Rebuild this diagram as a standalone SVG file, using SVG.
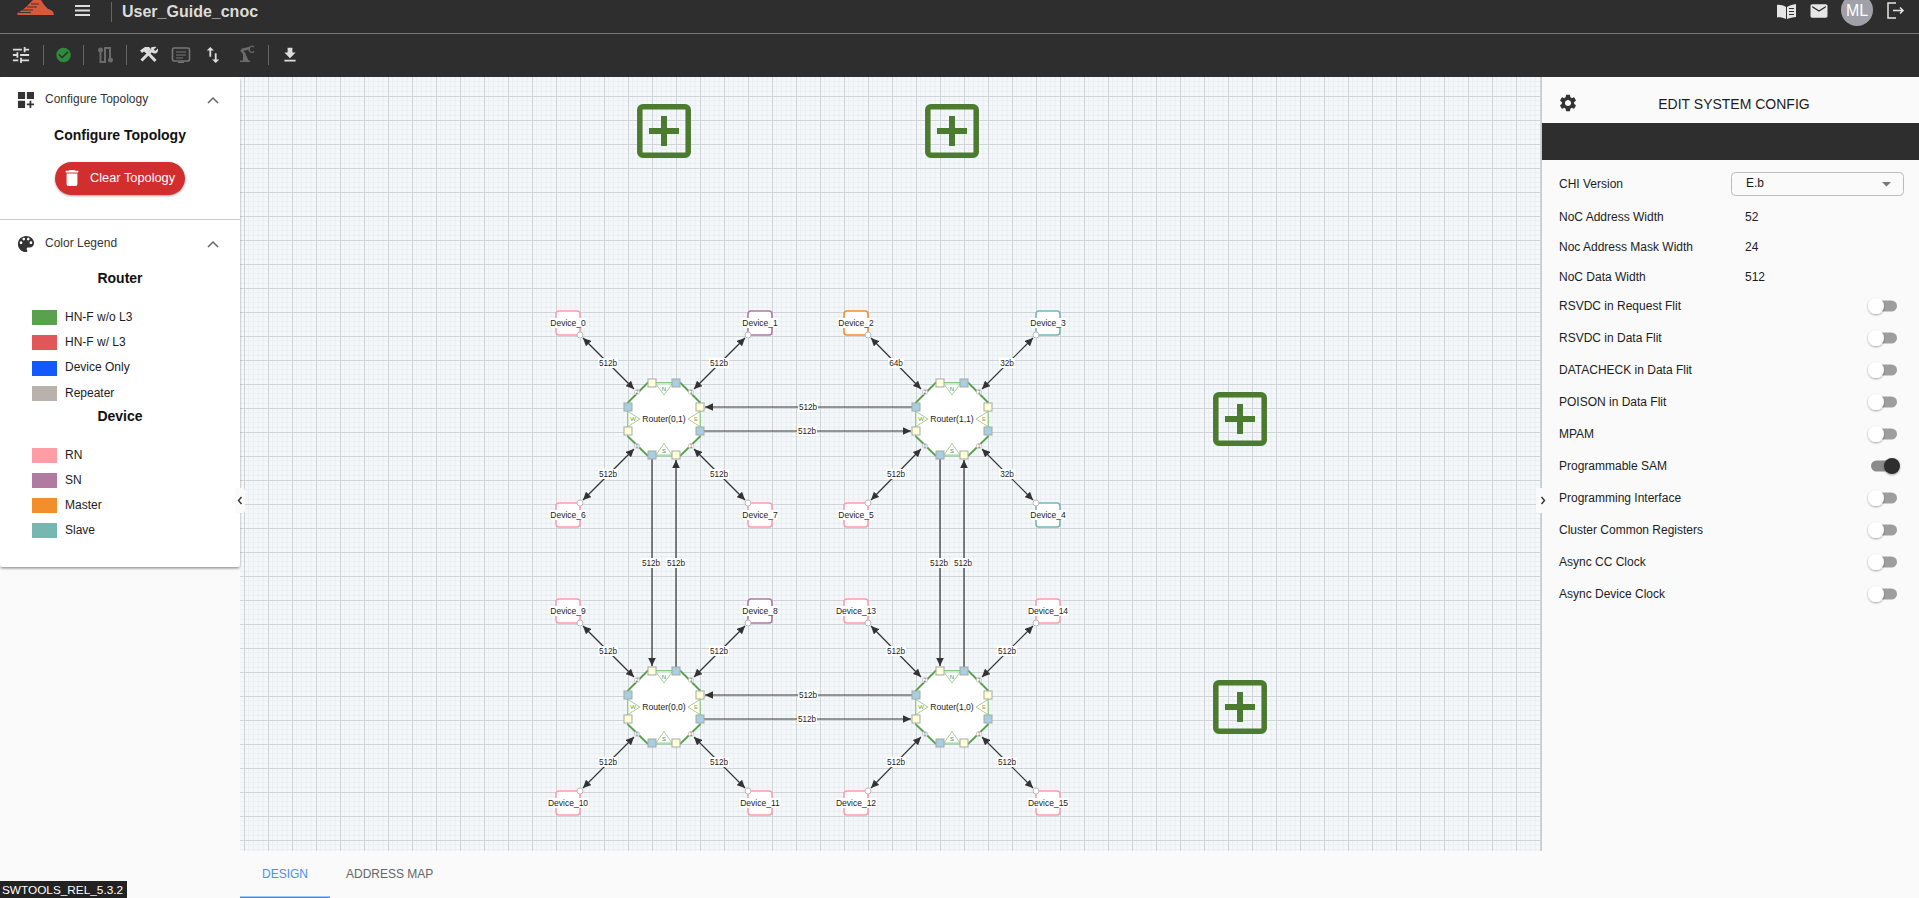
<svg xmlns="http://www.w3.org/2000/svg" xmlns:xlink="http://www.w3.org/1999/xlink" width="1919" height="898" viewBox="0 0 1919 898">
<style>
text{font-family:"Liberation Sans",Arial,sans-serif;fill:#1c1c1c}
.ui{font-size:12px;dominant-baseline:central}
.h{font-size:14px;font-weight:bold;text-anchor:middle;fill:#111;dominant-baseline:central}
.cv{fill:none;stroke:#666;stroke-width:1.5}
.dv{stroke:#666;stroke-width:1}
.link{stroke:#333;stroke-width:1.2;fill:none}
.both{marker-start:url(#a);marker-end:url(#a)}
.one{marker-end:url(#a)}
.lb rect{fill:#fff}
.lb text{font-size:8.200px;text-anchor:middle;fill:#1c1c1c}
.dev rect.b{fill:#fff;stroke-width:1.6}
.dev rect.t{fill:#fff}
.dev text{font-size:8.500px;text-anchor:middle}
.dev circle{fill:#fff;stroke:#aaa;stroke-width:.8}
.rn{stroke:#ff9da7}.sn{stroke:#b07aa1}.ma{stroke:#f28e2b}.sl{stroke:#76b7b2}
.tk{fill:#9e9e9e}
.kn{fill:#fff;filter:url(#s1)}
.add{fill:none;stroke:#4c7a2e;stroke-width:5.5}
.addp{fill:#4c7a2e}
.rl{font-size:8.600px;text-anchor:middle}
</style>
<defs>
<pattern id="grid" patternUnits="userSpaceOnUse" x="244" y="0" width="24" height="24">
<rect width="24" height="24" fill="#f4f8fb"/>
<path d="M4.8 0V24M9.6 0V24M14.4 0V24M19.2 0V24M0 4.8H24M0 9.6H24M0 14.4H24M0 19.2H24" stroke="#e8edf0" stroke-width=".9" fill="none"/>
<path d="M.5 0V24M0 .5H24" stroke="#d0d4d7" stroke-width="1" fill="none"/>
</pattern>
<marker id="a" markerUnits="userSpaceOnUse" markerWidth="9" markerHeight="8" refX="8" refY="3.8" orient="auto-start-reverse"><path d="M0 0L8 3.800L0 7.600z" fill="#333"/></marker>
<filter id="s1" x="-50%" y="-50%" width="200%" height="200%"><feDropShadow dx="0" dy="1" stdDeviation="1" flood-color="#000" flood-opacity=".35"/></filter>
<filter id="s2" x="-5%" y="-5%" width="110%" height="110%"><feDropShadow dx="0" dy="1.5" stdDeviation="1.2" flood-color="#000" flood-opacity=".4"/></filter>
<g id="router">
<polygon points="-16,-36.5 16,-36.5 36.5,-16 36.5,17 16,37 -16,37 -36.5,17 -36.5,-16" fill="#fff" stroke="#8cc684" stroke-width="1"/>
<path d="M-36.5 -16L-16 -36.5M16 -36.5L36.5 -16M36.5 17L16 37M-16 37L-36.5 17" stroke="#59a14f" stroke-width="1.800" fill="none"/>
<g fill="#fff" stroke="#a0d098" stroke-width="1">
<polygon points="-8,-35 8,-35 0,-24"/><polygon points="-8,36 8,36 0,24.5"/><polygon points="-36,-7.5 -24,0 -36,7.5"/><polygon points="36,-7.5 24,0 36,7.5"/>
</g>
<text x="0" y="-28" style="font-size:6px;text-anchor:middle;fill:#2f8f6f">N</text><text x="0" y="34" style="font-size:6px;text-anchor:middle;fill:#2f8f6f">S</text><text x="-31" y="2.200" style="font-size:6px;text-anchor:middle;fill:#5f9f2f">W</text><text x="32" y="2.200" style="font-size:6px;text-anchor:middle;fill:#c08f3f">E</text>
<g stroke="#a8a8a8" stroke-width="1">
<rect x="-16" y="-40" width="8" height="8" fill="#fefed8"/><rect x="8" y="-40" width="8" height="8" fill="#a8cfdf"/>
<rect x="-40" y="-16" width="8" height="8" fill="#a8cfdf"/><rect x="-40" y="8" width="8" height="8" fill="#fefed8"/>
<rect x="32" y="-16" width="8" height="8" fill="#fefed8"/><rect x="32" y="8" width="8" height="8" fill="#a8cfdf"/>
<rect x="-16" y="32" width="8" height="8" fill="#a8cfdf"/><rect x="8" y="32" width="8" height="8" fill="#fefed8"/>
</g>
<g fill="#fff" stroke="#bbb" stroke-width=".7">
<circle cx="-27" cy="-27" r="2.600"/><circle cx="27" cy="-27" r="2.600"/><circle cx="-27" cy="27" r="2.600"/><circle cx="27" cy="27" r="2.600"/>
</g>
<text x="-27" y="-25.300" style="font-size:4.500px;text-anchor:middle;fill:#555">2</text><text x="27" y="-25.300" style="font-size:4.500px;text-anchor:middle;fill:#555">3</text><text x="-27" y="28.700" style="font-size:4.500px;text-anchor:middle;fill:#555">0</text><text x="27" y="28.700" style="font-size:4.500px;text-anchor:middle;fill:#555">1</text>
</g>
<g id="addbtn"><rect x="-24.200" y="-24.200" width="48.400" height="48.400" rx="3" class="add"/><rect x="-15" y="-3" width="30" height="6" class="addp"/><rect x="-3" y="-15" width="6" height="30" class="addp"/></g>
</defs>

<rect width="1919" height="898" fill="#fafafa"/>
<rect id="canvas" x="240" y="77" width="1302" height="774" fill="url(#grid)"/>

<g id="topbar">
<rect width="1919" height="77" fill="#2e2e2e"/>
<rect y="33" width="1919" height="1" fill="#777"/>
<path d="M17 14C19 11.500 25 9 29 4L33 0H41C43 4 46 7 48 9C51 9.500 54 11.500 54 15H19Q17 15 17 14Z" fill="#d9583a"/>
<path d="M19 12.500H31M22 10H33M27 7H37M31 4H39" stroke="#2e2e2e" stroke-width=".9" fill="none"/>
<path d="M75 6H90M75 10.500H90M75 15H90" stroke="#ddd" stroke-width="1.800" fill="none"/>
<rect x="111" y="2" width="1" height="20" fill="#666"/>
<text x="122" y="17" style="font-size:16px;font-weight:bold;fill:#dcdcdc">User_Guide_cnoc</text>
<path d="M1786 7C1783 5 1779 4.500 1777 5V17.500C1779 17 1783 17.500 1786 19Z" fill="#e6e6e6"/>
<path d="M1787 7C1790 5 1793 4.500 1796 4V17C1793 17.500 1790 17.500 1787 19Z" fill="#e6e6e6"/>
<path d="M1789 8.500H1794M1789 11.500H1794M1789 14.500H1794" stroke="#2e2e2e" stroke-width="1"/>
<path transform="translate(1808.800,.8) scale(.85)" d="M20 4H4c-1.100 0-2 .9-2 2v12c0 1.100.9 2 2 2h16c1.100 0 2-.9 2-2V6c0-1.100-.9-2-2-2zm0 4l-8 5-8-5V6l8 5 8-5v2z" fill="#e6e6e6"/>
<circle cx="1857" cy="10" r="16" fill="#a0a1a8"/>
<text x="1857" y="16" style="font-size:16px;fill:#fff;text-anchor:middle">ML</text>
<path d="M1896 3H1888V18H1896M1893 10.500H1903M1900 7.500L1903 10.500L1900 13.500" fill="none" stroke="#e6e6e6" stroke-width="1.500"/>
</g>

<g id="toolbar">
<path transform="translate(10.200,44.200) scale(.9)" d="M3 17v2h6v-2H3zM3 5v2h10V5H3zm10 16v-2h8v-2h-8v-2h-2v6h2zM7 9v2H3v2h4v2h2V9H7zm14 4v-2H11v2h10zm-6-4h2V7h4V5h-4V3h-2v6z" fill="#ddd"/>
<path class="dv" d="M43.500 45V65M83.500 45V65M126.500 45V65M268.500 45V65"/>
<path transform="translate(54.900,46.400) scale(.72)" d="M12 2C6.480 2 2 6.480 2 12s4.480 10 10 10 10-4.480 10-10S17.520 2 12 2zm-2 15l-5-5 1.410-1.410L10 14.170l7.590-7.590L19 8l-9 9z" fill="#2e8b3a"/>
<g fill="none" stroke="#6b6b6b" stroke-width="2"><path d="M100.500 50V62H105V48H110V60"/></g><circle cx="100.500" cy="50" r="2.500" fill="#6b6b6b"/><circle cx="110.500" cy="60" r="2.500" fill="#6b6b6b"/>
<path d="M141.500 60.500L152 50M155.500 61L146.500 51.500" fill="none" stroke="#ddd" stroke-width="3"/><path d="M140 50.500L145 47H149L151 49L146.500 53.500L144 51.500L142 53Z" fill="#ddd"/><path d="M151 47.500C153 46.500 155 46.500 156.500 47L153.800 49.600L155.200 51L157.800 48.400C158.300 50 158 52 156.500 53C155 54 153 53.500 151.500 52Z" fill="#ddd"/>
<rect x="172.500" y="48" width="17" height="13" rx="1.500" fill="none" stroke="#777" stroke-width="1.600"/><path d="M176 52H186M176 55H186M176 58H183M178 62.500H184" stroke="#777" stroke-width="1.200"/>
<path transform="translate(202.200,44.200) scale(.9)" d="M16 17.010V10h-2v7.010h-3L15 21l4-3.990h-3zM9 3L5 6.990h3V14h2V6.990h3L9 3z" fill="#ddd"/>
<path d="M240 62H250V60.500H248.500L245.500 54H243V60.500H240Z" fill="#6b6b6b"/><path d="M241 50L245 54.500M241.500 50L250 48" fill="none" stroke="#6b6b6b" stroke-width="2.400"/><path d="M254 47A3 3 0 1 0 254 51.500" fill="none" stroke="#6b6b6b" stroke-width="1.300"/>
<path transform="translate(280.400,45.400) scale(.8)" d="M19 9h-4V3H9v6H5l7 7 7-7zM5 18v2h14v-2H5z" fill="#ddd"/>
</g>

<g id="left-panel">
<rect x="0" y="77" width="240" height="490" rx="3" fill="#fff" filter="url(#s2)"/>
<path transform="translate(15.300,89.300) scale(.89)" d="M3 3h8v8H3zm10 0h8v8h-8zM3 13h8v8H3zm15 0h-2v3h-3v2h3v3h2v-3h3v-2h-3z" fill="#333"/>
<text x="45" y="99" class="ui" style="fill:#333">Configure Topology</text>
<path class="cv" d="M208 103L213 98L218 103"/>
<text x="120" y="135" class="h">Configure Topology</text>
<rect x="55" y="162" width="130" height="33" rx="16.500" fill="#d32f2f" filter="url(#s1)"/>
<path transform="translate(61.200,167.200) scale(.9)" d="M6 19c0 1.100.9 2 2 2h8c1.100 0 2-.9 2-2V7H6v12zM19 4h-3.500l-1-1h-5l-1 1H5v2h14V4z" fill="#fff"/>
<text x="90" y="177.500" class="ui" style="font-size:12.800px;fill:#fff">Clear Topology</text>
<rect x="0" y="219" width="240" height="1" fill="#ccc"/>
<path transform="translate(15.200,233.200) scale(.9)" d="M12 3c-4.970 0-9 4.030-9 9s4.030 9 9 9c.83 0 1.500-.67 1.500-1.500 0-.39-.15-.74-.39-1.010-.23-.26-.38-.61-.38-.99 0-.83.67-1.500 1.500-1.500H16c2.760 0 5-2.240 5-5 0-4.420-4.030-8-9-8zm-5.500 9c-.83 0-1.500-.67-1.500-1.500S5.670 9 6.500 9 8 9.670 8 10.500 7.330 12 6.500 12zm3-4C8.670 8 8 7.330 8 6.500S8.670 5 9.500 5s1.500.67 1.500 1.500S10.330 8 9.500 8zm5 0c-.83 0-1.500-.67-1.500-1.500S13.670 5 14.500 5s1.500.67 1.500 1.500S15.330 8 14.500 8zm3 4c-.83 0-1.500-.67-1.500-1.500S16.670 9 17.500 9s1.500.67 1.500 1.500-.67 1.500-1.500 1.500z" fill="#333"/>
<text x="45" y="243" class="ui" style="fill:#333">Color Legend</text>
<path class="cv" d="M208 247L213 242L218 247"/>
<text x="120" y="278" class="h">Router</text>
<text x="120" y="416" class="h">Device</text>
<rect x="32" y="310" width="25" height="15" fill="#59a14f"/><text x="65" y="316.500" class="ui">HN-F w/o L3</text>
<rect x="32" y="335" width="25" height="15" fill="#e15759"/><text x="65" y="341.500" class="ui">HN-F w/ L3</text>
<rect x="32" y="361" width="25" height="15" fill="#1259ff"/><text x="65" y="366.500" class="ui">Device Only</text>
<rect x="32" y="386" width="25" height="15" fill="#bab0ac"/><text x="65" y="392.500" class="ui">Repeater</text>
<rect x="32" y="448" width="25" height="15" fill="#ff9da7"/><text x="65" y="454.500" class="ui">RN</text>
<rect x="32" y="473" width="25" height="15" fill="#b07aa1"/><text x="65" y="479.500" class="ui">SN</text>
<rect x="32" y="498" width="25" height="15" fill="#f28e2b"/><text x="65" y="504.500" class="ui">Master</text>
<rect x="32" y="523" width="25" height="15" fill="#76b7b2"/><text x="65" y="529.500" class="ui">Slave</text>
<rect x="235" y="488" width="10" height="25" rx="3" fill="#fafafa"/>
<path d="M241.500 497L238.500 500.500L241.500 504" fill="none" stroke="#333" stroke-width="1.400"/>
</g>

<g id="right-panel">
<rect x="1542" y="77" width="377" height="821" fill="#fafafa"/>
<rect x="1541" y="77" width="1" height="821" fill="#ccc"/>
<rect x="1542" y="123" width="377" height="37" fill="#2e2e2e"/>
<path transform="translate(1557.800,92.800) scale(.85)" d="M19.140 12.940c.04-.3.06-.61.06-.94 0-.32-.02-.64-.07-.94l2.030-1.580c.18-.14.23-.41.12-.61l-1.920-3.320c-.12-.22-.37-.29-.59-.22l-2.390.96c-.5-.38-1.030-.7-1.620-.94l-.36-2.540c-.04-.24-.24-.41-.48-.41h-3.840c-.24 0-.43.17-.47.41l-.36 2.540c-.59.24-1.130.57-1.620.94l-2.390-.96c-.22-.08-.47 0-.59.22L2.740 8.870c-.12.21-.08.47.12.61l2.030 1.580c-.05.3-.09.63-.09.94s.02.64.07.94l-2.030 1.580c-.18.14-.23.41-.12.61l1.920 3.320c.12.22.37.29.59.22l2.390-.96c.5.38 1.030.7 1.620.94l.36 2.540c.05.24.24.41.48.41h3.840c.24 0 .44-.17.47-.41l.36-2.540c.59-.24 1.130-.56 1.620-.94l2.390.96c.22.08.47 0 .59-.22l1.920-3.320c.12-.22.07-.47-.12-.61l-2.010-1.580zM12 15.600c-1.980 0-3.600-1.620-3.600-3.600s1.620-3.600 3.600-3.600 3.600 1.620 3.600 3.600-1.620 3.600-3.600 3.600z" fill="#333"/>
<text x="1734" y="104" class="ui" style="font-size:14px;text-anchor:middle">EDIT SYSTEM CONFIG</text>
<text x="1559" y="184" class="ui">CHI Version</text>
<rect x="1731.500" y="172.500" width="172" height="23" rx="4" fill="none" stroke="#bbb" stroke-width="1"/>
<text x="1746" y="183" class="ui">E.b</text>
<path d="M1882 182H1891L1886.500 186.500Z" fill="#777"/>
<text x="1559" y="217" class="ui">NoC Address Width</text><text x="1745" y="217" class="ui">52</text>
<text x="1559" y="247" class="ui">Noc Address Mask Width</text><text x="1745" y="247" class="ui">24</text>
<text x="1559" y="277" class="ui">NoC Data Width</text><text x="1745" y="277" class="ui">512</text>
<text x="1559" y="306" class="ui">RSVDC in Request Flit</text><rect x="1871" y="300.500" width="26" height="11" rx="5.500" class="tk"/><circle cx="1876" cy="306" r="8" class="kn"/>
<text x="1559" y="338" class="ui">RSVDC in Data Flit</text><rect x="1871" y="332.500" width="26" height="11" rx="5.500" class="tk"/><circle cx="1876" cy="338" r="8" class="kn"/>
<text x="1559" y="370" class="ui">DATACHECK in Data Flit</text><rect x="1871" y="364.500" width="26" height="11" rx="5.500" class="tk"/><circle cx="1876" cy="370" r="8" class="kn"/>
<text x="1559" y="402" class="ui">POISON in Data Flit</text><rect x="1871" y="396.500" width="26" height="11" rx="5.500" class="tk"/><circle cx="1876" cy="402" r="8" class="kn"/>
<text x="1559" y="434" class="ui">MPAM</text><rect x="1871" y="428.500" width="26" height="11" rx="5.500" class="tk"/><circle cx="1876" cy="434" r="8" class="kn"/>
<text x="1559" y="466" class="ui">Programmable SAM</text><rect x="1871" y="460.500" width="26" height="11" rx="5.500" fill="#8a8a8a"/><circle cx="1892" cy="466" r="8" fill="#2e2e2e" filter="url(#s1)"/>
<text x="1559" y="498" class="ui">Programming Interface</text><rect x="1871" y="492.500" width="26" height="11" rx="5.500" class="tk"/><circle cx="1876" cy="498" r="8" class="kn"/>
<text x="1559" y="530" class="ui">Cluster Common Registers</text><rect x="1871" y="524.500" width="26" height="11" rx="5.500" class="tk"/><circle cx="1876" cy="530" r="8" class="kn"/>
<text x="1559" y="562" class="ui">Async CC Clock</text><rect x="1871" y="556.500" width="26" height="11" rx="5.500" class="tk"/><circle cx="1876" cy="562" r="8" class="kn"/>
<text x="1559" y="594" class="ui">Async Device Clock</text><rect x="1871" y="588.500" width="26" height="11" rx="5.500" class="tk"/><circle cx="1876" cy="594" r="8" class="kn"/>
<rect x="1536" y="488" width="12" height="25" rx="3" fill="#fafafa"/>
<path d="M1541.500 497L1544.500 500.500L1541.500 504" fill="none" stroke="#333" stroke-width="1.400"/>
</g>

<g id="bottom-tabs">
<rect x="240" y="851" width="1302" height="47" fill="#fafafa"/>
<text x="262" y="874" class="ui" style="fill:#4a90f0">DESIGN</text>
<rect x="240" y="896.500" width="90" height="1.500" fill="#4a86e8"/>
<text x="346" y="874" class="ui" style="fill:#666">ADDRESS MAP</text>
<rect x="0" y="881" width="127" height="17" fill="#222"/>
<text x="2" y="890" class="ui" style="fill:#fff;font-size:11.800px">SWTOOLS_REL_5.3.2</text>
</g>

<g id="add-buttons">
<use xlink:href="#addbtn" href="#addbtn" x="664" y="131"/>
<use xlink:href="#addbtn" href="#addbtn" x="952" y="131"/>
<use xlink:href="#addbtn" href="#addbtn" x="1240" y="419"/>
<use xlink:href="#addbtn" href="#addbtn" x="1240" y="707"/>
</g>

<g id="connectors">
<path class="link both" d="M583 338L634 389"/><path class="link both" d="M745 338L694 389"/><path class="link both" d="M583 500L634 449"/><path class="link both" d="M745 500L694 449"/>
<path class="link both" d="M871 338L921 389"/><path class="link both" d="M1033 338L982 389"/><path class="link both" d="M871 500L921 449"/><path class="link both" d="M1033 500L982 449"/>
<path class="link both" d="M583 626L634 677"/><path class="link both" d="M745 626L694 677"/><path class="link both" d="M583 788L634 737"/><path class="link both" d="M745 788L694 737"/>
<path class="link both" d="M871 626L921 677"/><path class="link both" d="M1033 626L982 677"/><path class="link both" d="M871 788L921 737"/><path class="link both" d="M1033 788L982 737"/>
<path class="link one" d="M912 407H705"/><path class="link one" d="M704 431H911"/>
<path class="link one" d="M912 695H705"/><path class="link one" d="M704 719H911"/>
<path class="link one" d="M652 459V666"/><path class="link one" d="M676 667V460"/>
<path class="link one" d="M940 459V666"/><path class="link one" d="M964 667V460"/>
<g class="lb">
<g transform="translate(608,363)"><rect x="-10" y="-5" width="20" height="10"/><text y="3">512b</text></g>
<g transform="translate(719,363)"><rect x="-10" y="-5" width="20" height="10"/><text y="3">512b</text></g>
<g transform="translate(608,474)"><rect x="-10" y="-5" width="20" height="10"/><text y="3">512b</text></g>
<g transform="translate(719,474)"><rect x="-10" y="-5" width="20" height="10"/><text y="3">512b</text></g>
<g transform="translate(896,363)"><rect x="-8" y="-5" width="16" height="10"/><text y="3">64b</text></g>
<g transform="translate(1007,363)"><rect x="-8" y="-5" width="16" height="10"/><text y="3">32b</text></g>
<g transform="translate(896,474)"><rect x="-10" y="-5" width="20" height="10"/><text y="3">512b</text></g>
<g transform="translate(1007,474)"><rect x="-8" y="-5" width="16" height="10"/><text y="3">32b</text></g>
<g transform="translate(608,651)"><rect x="-10" y="-5" width="20" height="10"/><text y="3">512b</text></g>
<g transform="translate(719,651)"><rect x="-10" y="-5" width="20" height="10"/><text y="3">512b</text></g>
<g transform="translate(608,762)"><rect x="-10" y="-5" width="20" height="10"/><text y="3">512b</text></g>
<g transform="translate(719,762)"><rect x="-10" y="-5" width="20" height="10"/><text y="3">512b</text></g>
<g transform="translate(896,651)"><rect x="-10" y="-5" width="20" height="10"/><text y="3">512b</text></g>
<g transform="translate(1007,651)"><rect x="-10" y="-5" width="20" height="10"/><text y="3">512b</text></g>
<g transform="translate(896,762)"><rect x="-10" y="-5" width="20" height="10"/><text y="3">512b</text></g>
<g transform="translate(1007,762)"><rect x="-10" y="-5" width="20" height="10"/><text y="3">512b</text></g>
<g transform="translate(808,407)"><rect x="-10" y="-5" width="20" height="10"/><text y="3">512b</text></g>
<g transform="translate(807,431)"><rect x="-10" y="-5" width="20" height="10"/><text y="3">512b</text></g>
<g transform="translate(808,695)"><rect x="-10" y="-5" width="20" height="10"/><text y="3">512b</text></g>
<g transform="translate(807,719)"><rect x="-10" y="-5" width="20" height="10"/><text y="3">512b</text></g>
<g transform="translate(651,563)"><rect x="-10" y="-5" width="20" height="10"/><text y="3">512b</text></g>
<g transform="translate(676,563)"><rect x="-10" y="-5" width="20" height="10"/><text y="3">512b</text></g>
<g transform="translate(939,563)"><rect x="-10" y="-5" width="20" height="10"/><text y="3">512b</text></g>
<g transform="translate(963,563)"><rect x="-10" y="-5" width="20" height="10"/><text y="3">512b</text></g>
</g>
</g>

<g id="router-0-1" transform="translate(664,419)"><use xlink:href="#router" href="#router"/><text y="3" class="rl">Router(0,1)</text></g>
<g id="router-1-1" transform="translate(952,419)"><use xlink:href="#router" href="#router"/><text y="3" class="rl">Router(1,1)</text></g>
<g id="router-0-0" transform="translate(664,707)"><use xlink:href="#router" href="#router"/><text y="3" class="rl">Router(0,0)</text></g>
<g id="router-1-0" transform="translate(952,707)"><use xlink:href="#router" href="#router"/><text y="3" class="rl">Router(1,0)</text></g>

<g id="device-0" class="dev" transform="translate(568,323)"><rect class="b rn" x="-12" y="-12" width="24" height="24" rx="3"/><rect class="t" x="-18" y="-5" width="36" height="10" rx="2"/><text y="3">Device_0</text><circle cx="12" cy="12" r="3"/></g>
<g id="device-1" class="dev" transform="translate(760,323)"><rect class="b sn" x="-12" y="-12" width="24" height="24" rx="3"/><rect class="t" x="-18" y="-5" width="36" height="10" rx="2"/><text y="3">Device_1</text><circle cx="-12" cy="12" r="3"/></g>
<g id="device-2" class="dev" transform="translate(856,323)"><rect class="b ma" x="-12" y="-12" width="24" height="24" rx="3"/><rect class="t" x="-18" y="-5" width="36" height="10" rx="2"/><text y="3">Device_2</text><circle cx="12" cy="12" r="3"/></g>
<g id="device-3" class="dev" transform="translate(1048,323)"><rect class="b sl" x="-12" y="-12" width="24" height="24" rx="3"/><rect class="t" x="-18" y="-5" width="36" height="10" rx="2"/><text y="3">Device_3</text><circle cx="-12" cy="12" r="3"/></g>
<g id="device-6" class="dev" transform="translate(568,515)"><rect class="b rn" x="-12" y="-12" width="24" height="24" rx="3"/><rect class="t" x="-18" y="-5" width="36" height="10" rx="2"/><text y="3">Device_6</text><circle cx="12" cy="-12" r="3"/></g>
<g id="device-7" class="dev" transform="translate(760,515)"><rect class="b rn" x="-12" y="-12" width="24" height="24" rx="3"/><rect class="t" x="-18" y="-5" width="36" height="10" rx="2"/><text y="3">Device_7</text><circle cx="-12" cy="-12" r="3"/></g>
<g id="device-5" class="dev" transform="translate(856,515)"><rect class="b rn" x="-12" y="-12" width="24" height="24" rx="3"/><rect class="t" x="-18" y="-5" width="36" height="10" rx="2"/><text y="3">Device_5</text><circle cx="12" cy="-12" r="3"/></g>
<g id="device-4" class="dev" transform="translate(1048,515)"><rect class="b sl" x="-12" y="-12" width="24" height="24" rx="3"/><rect class="t" x="-18" y="-5" width="36" height="10" rx="2"/><text y="3">Device_4</text><circle cx="-12" cy="-12" r="3"/></g>
<g id="device-9" class="dev" transform="translate(568,611)"><rect class="b rn" x="-12" y="-12" width="24" height="24" rx="3"/><rect class="t" x="-18" y="-5" width="36" height="10" rx="2"/><text y="3">Device_9</text><circle cx="12" cy="12" r="3"/></g>
<g id="device-8" class="dev" transform="translate(760,611)"><rect class="b sn" x="-12" y="-12" width="24" height="24" rx="3"/><rect class="t" x="-18" y="-5" width="36" height="10" rx="2"/><text y="3">Device_8</text><circle cx="-12" cy="12" r="3"/></g>
<g id="device-13" class="dev" transform="translate(856,611)"><rect class="b rn" x="-12" y="-12" width="24" height="24" rx="3"/><rect class="t" x="-21" y="-5" width="42" height="10" rx="2"/><text y="3">Device_13</text><circle cx="12" cy="12" r="3"/></g>
<g id="device-14" class="dev" transform="translate(1048,611)"><rect class="b rn" x="-12" y="-12" width="24" height="24" rx="3"/><rect class="t" x="-21" y="-5" width="42" height="10" rx="2"/><text y="3">Device_14</text><circle cx="-12" cy="12" r="3"/></g>
<g id="device-10" class="dev" transform="translate(568,803)"><rect class="b rn" x="-12" y="-12" width="24" height="24" rx="3"/><rect class="t" x="-21" y="-5" width="42" height="10" rx="2"/><text y="3">Device_10</text><circle cx="12" cy="-12" r="3"/></g>
<g id="device-11" class="dev" transform="translate(760,803)"><rect class="b rn" x="-12" y="-12" width="24" height="24" rx="3"/><rect class="t" x="-21" y="-5" width="42" height="10" rx="2"/><text y="3">Device_11</text><circle cx="-12" cy="-12" r="3"/></g>
<g id="device-12" class="dev" transform="translate(856,803)"><rect class="b rn" x="-12" y="-12" width="24" height="24" rx="3"/><rect class="t" x="-21" y="-5" width="42" height="10" rx="2"/><text y="3">Device_12</text><circle cx="12" cy="-12" r="3"/></g>
<g id="device-15" class="dev" transform="translate(1048,803)"><rect class="b rn" x="-12" y="-12" width="24" height="24" rx="3"/><rect class="t" x="-21" y="-5" width="42" height="10" rx="2"/><text y="3">Device_15</text><circle cx="-12" cy="-12" r="3"/></g>
</svg>
